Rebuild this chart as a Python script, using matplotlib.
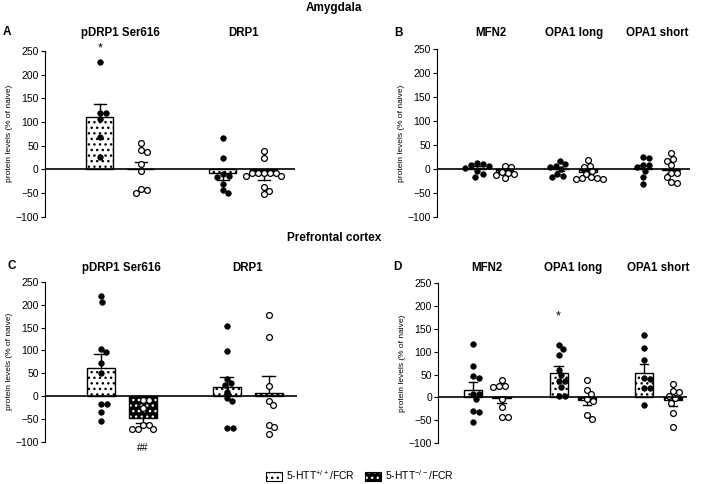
import matplotlib
matplotlib.use("Agg")
import matplotlib.pyplot as plt
import matplotlib.transforms as mtransforms
from matplotlib.patches import Patch
import numpy as np

plt.rcParams['font.family'] = ['Liberation Sans', 'DejaVu Sans']
plt.rcParams['mathtext.default'] = 'regular'
plt.rcParams['hatch.linewidth'] = 1.0

# ---- data (protein levels, % of naive) ----
drp_labels = ["pDRP1 Ser616", "DRP1"]
fus_labels = ["MFN2", "OPA1 long", "OPA1 short"]

# Amygdala, panel A
a_wt = [[227, 119, 119, 106, 69, 27],
        [66, 24, -10, -14, -17, -30, -44, -50]]
a_ko = [[55, 40, 36, 12, -3, -41, -44, -49],
        [38, 24, -8, -8, -8, -8, -8, -14, -14, -37, -45, -53]]
a_mean_wt = [111, -8]
a_sem_wt = [28, 15]
a_mean_ko = [1, -9]
a_sem_ko = [14, 14]

# Amygdala, panel B
b_wt = [[12, 10, 8, 5, 2, -5, -10, -17],
        [17, 10, 7, 4, 0, -10, -15, -17],
        [25, 22, 8, 8, 3, -4, -18, -32]]
b_ko = [[5, 3, -6, -8, -10, -12, -20],
        [19, 7, 3, -5, -10, -18, -20, -20, -22, -22],
        [33, 21, 17, 8, -8, -8, -18, -28, -30]]
b_mean_wt = [2, -1, 2]
b_sem_wt = [4, 4, 6]
b_mean_ko = [-7, -7, -2]
b_sem_ko = [3, 4, 7]

# Prefrontal cortex, panel C
c_wt = [[218, 205, 103, 96, 72, 50, -18, -18, -35, -54],
        [154, 99, 38, 28, 24, 10, -4, -11, -70, -70]]
c_ko = [[-9, -9, -25, -62, -62, -71, -71, -71],
        [177, 129, 23, -11, -20, -62, -68, -82]]
c_mean_wt = [62, 19]
c_sem_wt = [30, 23]
c_mean_ko = [-48, 7]
c_sem_ko = [11, 37]

# Prefrontal cortex, panel D
d_wt = [[116, 68, 46, 43, 8, 8, -4, -29, -31, -55],
        [114, 105, 93, 60, 48, 35, 35, 23, 4, 4],
        [137, 109, 82, 43, 41, 21, 21, -16]]
d_ko = [[37, 26, 24, 23, -4, -21, -42, -44],
        [39, 17, 7, -3, -9, -39, -48],
        [29, 15, 12, 4, -2, -13, -35, -64]]
d_mean_wt = [17, 54, 54]
d_sem_wt = [17, 14, 20]
d_mean_ko = [-1, -5, -5]
d_sem_ko = [11, 11, 13]

yticks = [-100, -50, 0, 50, 100, 150, 200, 250]
legend_labels = ["5-HTT$^{+/+}$/FCR", "5-HTT$^{-/-}$/FCR"]

fig = plt.figure(figsize=(7.08, 4.84), dpi=100)


def swarm_x(ax, x0, vals, diam=6.0):
    # simple beeswarm: nudge points sideways until they no longer overlap (pixel space)
    trans = ax.transData
    sx = trans.transform((1, 0))[0] - trans.transform((0, 0))[0]
    cands = [0.0]
    for s in np.arange(0.5, 40, 0.5):
        cands += [s, -s]
    placed = []
    xs = []
    for v in vals:
        y = trans.transform((x0, v))[1]
        for c in cands:
            if all((c - px) ** 2 + (y - py) ** 2 >= diam ** 2 for px, py in placed):
                break
        placed.append((c, y))
        xs.append(x0 + c / sx)
    return xs


def draw_group(ax, x, vals, mean, sem, ko, width):
    if ko:
        ax.bar(x, mean, width, color='black', edgecolor='white', hatch='...', lw=0, zorder=2)
    else:
        ax.bar(x, mean, width, color='white', edgecolor='black', hatch='...', lw=0, zorder=2)
    ax.bar(x, mean, width, fill=False, edgecolor='black', lw=1.0, zorder=3)
    end = mean + sem if mean >= 0 else mean - sem
    ax.plot([x, x], [mean, end], color='black', lw=1.0, zorder=4)
    ax.plot([x - width * 0.23, x + width * 0.23], [end, end], color='black', lw=1.0, zorder=4)
    xs = swarm_x(ax, x, vals)
    if ko:
        ax.plot(xs, vals, 'o', ms=4.2, mfc='white', mec='black', mew=0.9, ls='none', zorder=5)
    else:
        ax.plot(xs, vals, 'o', ms=4.0, mfc='black', mec='black', mew=0.5, ls='none', zorder=5)


def make_panel(rect, xlim, labels, wt, ko, mwt, swt, mko, sko, width, title_y):
    ax = fig.add_axes(rect)
    ax.set_xlim(*xlim)
    ax.set_ylim(-100, 250)
    ax.set_yticks(yticks)
    ax.tick_params(axis='y', labelsize=7.5, length=3, width=0.8, pad=1.5)
    ax.set_xticks([])
    for s in ['top', 'right', 'bottom']:
        ax.spines[s].set_visible(False)
    ax.spines['left'].set_linewidth(0.8)
    ax.axhline(0, color='black', lw=1.2, zorder=6)
    ax.set_ylabel("protein levels (% of naive)", fontsize=6, labelpad=2)
    tr = mtransforms.blended_transform_factory(ax.transData, fig.transFigure)
    for i, lab in enumerate(labels):
        xw = 1 + 3 * i
        xk = xw + 1
        draw_group(ax, xw, wt[i], mwt[i], swt[i], False, width)
        draw_group(ax, xk, ko[i], mko[i], sko[i], True, width)
        ax.text((xw + xk) / 2, title_y, lab, transform=tr, ha='center', va='center',
                fontsize=8.3, fontweight='bold')
    return ax


W, H = 708.0, 484.0
axA = make_panel([45 / W, 1 - 216.7 / H, 250 / W, 165.7 / H], (-0.34, 5.76),
                 drp_labels, a_wt, a_ko, a_mean_wt, a_sem_wt, a_mean_ko, a_sem_ko,
                 0.66, 1 - 33 / H)
axB = make_panel([437 / W, 1 - 216.7 / H, 253 / W, 167.4 / H], (-0.44, 8.69),
                 fus_labels, b_wt, b_ko, b_mean_wt, b_sem_wt, b_mean_ko, b_sem_ko,
                 0.64, 1 - 33 / H)
axC = make_panel([45 / W, 1 - 442 / H, 252 / W, 160.3 / H], (-0.33, 5.67),
                 drp_labels, c_wt, c_ko, c_mean_wt, c_sem_wt, c_mean_ko, c_sem_ko,
                 0.67, 1 - 268 / H)
axD = make_panel([438.3 / W, 1 - 443 / H, 248.7 / W, 159.7 / H], (-0.22, 8.5),
                 fus_labels, d_wt, d_ko, d_mean_wt, d_sem_wt, d_mean_ko, d_sem_ko,
                 0.64, 1 - 268 / H)

# significance marks
axA.text(1, 255, "*", ha='center', va='center', fontsize=9, clip_on=False)
axD.text(4, 178, "*", ha='center', va='center', fontsize=9, clip_on=False)
axC.text(2, -113, "##", ha='center', va='center', fontsize=7.5, clip_on=False)

# headings and panel letters
fig.text(334 / W, 1 - 8 / H, "Amygdala", ha='center', va='center', fontsize=8.5, fontweight='bold')
fig.text(334 / W, 1 - 238 / H, "Prefrontal cortex", ha='center', va='center', fontsize=8.5, fontweight='bold')
for lab, x, y in [("A", 3, 32), ("B", 394, 33), ("C", 7, 266), ("D", 393, 267)]:
    fig.text(x / W, 1 - y / H, lab, ha='left', va='center', fontsize=8.5, fontweight='bold')

# legend
h_wt = Patch(facecolor='white', edgecolor='black', hatch='...', lw=0.8)
h_ko = (Patch(facecolor='black', edgecolor='white', hatch='...', lw=0),
        Patch(fill=False, edgecolor='black', lw=0.8))
fig.legend([h_wt, h_ko], legend_labels, loc='center', bbox_to_anchor=(360 / W, 1 - 475 / H),
           ncol=2, frameon=False, fontsize=7.5, handlelength=1.5, handleheight=0.9,
           columnspacing=1.0, handletextpad=0.4)

fig.savefig("out.png", dpi=100)
